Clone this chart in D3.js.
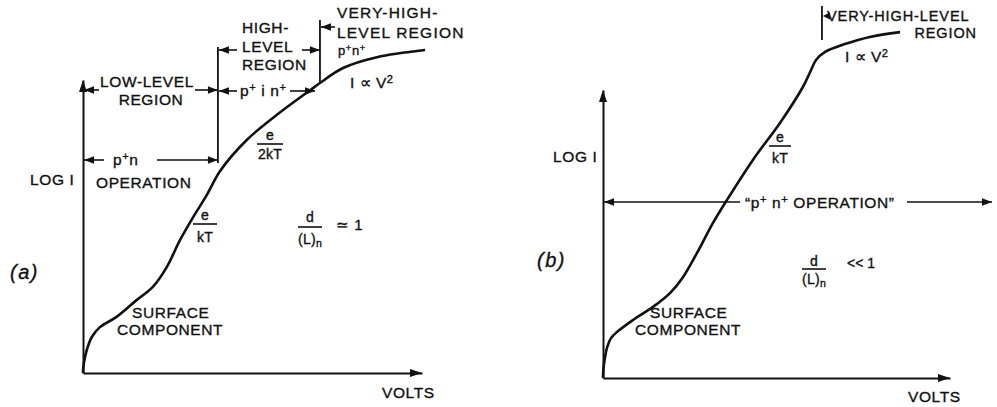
<!DOCTYPE html>
<html>
<head>
<meta charset="utf-8">
<script src="https://cdn.jsdelivr.net/npm/d3@7"></script>
<style>
  html, body { margin: 0; padding: 0; background: #fff; }
  svg text { font-family: "Liberation Sans", Arial, sans-serif; fill: #111; stroke: #111; stroke-width: 0.35px; }
</style>
</head>
<body>
<svg id="chart" width="997" height="407"></svg>
<script>
// Current–voltage characteristic, log I against volts (arbitrary units 0–100)
// (a) diode with d/(L)n ≈ 1
const curveA = [
  [0, 0], [0.1, 2], [0.6, 5.3], [1.2, 8], [2.6, 12], [5, 15.3], [9.9, 18.7],
  [15.8, 24.3], [20.6, 28.7], [24.7, 35.3], [28.6, 44.3], [32.5, 52],
  [36.5, 59.3], [40.4, 67.3], [48.3, 77.7], [57.1, 86], [67, 94.3],
  [69.9, 96.7], [76.7, 101.7], [86.7, 105.3], [100.9, 107.7]
];
// region boundaries along the volts axis for (a): low/high, high/very-high
const regionEdgesA = [39.8, 69.9];

// (b) diode with d/(L)n << 1
const curveB = [
  [0, 0], [0.1, 2.7], [0.6, 7], [1.2, 10.3], [2.3, 13.3], [4, 15.3],
  [8.6, 19.3], [14.4, 23.7], [19.3, 28.3], [23.1, 33.7], [27.1, 41.7],
  [31.7, 51.7], [35.7, 59.3], [43.2, 72.7], [51, 85], [57.6, 97],
  [59.7, 102], [61.4, 106], [64, 108.7], [69.7, 111.3], [76.9, 113.7],
  [85.6, 115.3]
];
const regionEdgeB = 63.1;

const axisMaxA = { x: 100, y: 97.7 };
const axisMaxB = { x: 100, y: 96 };

const svg = d3.select("#chart");
const INK = "#111";
const FS = 15.5;

// scales
const xA = d3.scaleLinear().domain([0, axisMaxA.x]).range([83, 422]);
const yA = d3.scaleLinear().domain([0, axisMaxA.y]).range([373, 80]);
const xB = d3.scaleLinear().domain([0, axisMaxB.x]).range([603, 950]);
const yB = d3.scaleLinear().domain([0, axisMaxB.y]).range([378, 90]);

// helpers
function arrowHead(g, x, y, dir, len = 10, half = 3.8) {
  // dir: 'left' | 'right' | 'up'
  let pts;
  if (dir === "right") pts = [[x, y], [x - len, y - half], [x - len, y + half]];
  else if (dir === "left") pts = [[x, y], [x + len, y - half], [x + len, y + half]];
  else pts = [[x, y], [x - half, y + len], [x + half, y + len]];
  g.append("path").attr("d", d3.line()(pts) + "Z").attr("fill", INK);
}
function arrow(g, x1, y, x2) {
  // shaft from x1 to x2, head at x2
  g.append("line").attr("x1", x1).attr("x2", x2).attr("y1", y).attr("y2", y)
    .attr("stroke", INK).attr("stroke-width", 1.6);
  arrowHead(g, x2, y, x2 > x1 ? "right" : "left");
}
function vline(g, x, y1, y2, w = 1.8) {
  g.append("line").attr("x1", x).attr("x2", x).attr("y1", y1).attr("y2", y2)
    .attr("stroke", INK).attr("stroke-width", w);
}
// text built from segments; {t, sup} / {t, sub}
function label(g, x, y, segs, opts = {}) {
  const t = g.append("text").attr("x", x).attr("y", y)
    .attr("font-size", opts.size || FS)
    .attr("letter-spacing", opts.ls != null ? opts.ls : 0.6)
    .attr("text-anchor", opts.anchor || "start");
  if (opts.italic) t.attr("font-style", "italic");
  if (typeof segs === "string") { t.text(segs); return t; }
  segs.forEach(s => {
    const sp = t.append("tspan").text(s.t);
    if (s.sup) sp.attr("font-size", (opts.size || FS) * 0.72).attr("baseline-shift", "45%");
    if (s.sub) sp.attr("font-size", (opts.size || FS) * 0.75).attr("baseline-shift", "-30%");
  });
  return t;
}
function fraction(g, cx, yNum, yBar, yDen, num, den, halfW, size = 14) {
  label(g, cx, yNum, num, { anchor: "middle", size, ls: 0.3 });
  g.append("line").attr("x1", cx - halfW).attr("x2", cx + halfW)
    .attr("y1", yBar).attr("y2", yBar).attr("stroke", INK).attr("stroke-width", 1.6);
  label(g, cx, yDen, den, { anchor: "middle", size, ls: 0.3 });
}
function axes(g, x, y, max) {
  const ax = g.append("g").attr("transform", `translate(0,${y(0)})`)
    .call(d3.axisBottom(x).tickValues([]).tickSizeOuter(0));
  const ay = g.append("g").attr("transform", `translate(${x(0)},0)`)
    .call(d3.axisLeft(y).tickValues([]).tickSizeOuter(0));
  [ax, ay].forEach(a => a.select(".domain").attr("stroke", INK).attr("stroke-width", 2));
  arrowHead(g, x(max.x), y(0), "right", 12, 4);
  arrowHead(g, x(0), y(max.y), "up", 12, 4);
}
const lineGen = (x, y) => d3.line().x(d => x(d[0])).y(d => y(d[1])).curve(d3.curveCatmullRom.alpha(0.5));

// ---------------- panel (a) ----------------
const gA = svg.append("g");
axes(gA, xA, yA, axisMaxA);
gA.append("path").datum(curveA).attr("d", lineGen(xA, yA))
  .attr("fill", "none").attr("stroke", INK).attr("stroke-width", 2.6);

const e0 = xA(regionEdgesA[0]), e1 = xA(regionEdgesA[1]);
vline(gA, e0, 47, 163);
vline(gA, e1, 20, 82);

label(gA, 30, 185, "LOG I");
label(gA, 10, 279, "(a)", { size: 20, italic: true, ls: 1.5 });
label(gA, 382, 398, "VOLTS");

// low-level region
label(gA, 147, 87, "LOW-LEVEL", { anchor: "middle" });
label(gA, 151, 105, "REGION", { anchor: "middle" });
arrow(gA, 99, 90, xA(0) + 1);
arrow(gA, 195, 90, e0);

// p+n operation
arrow(gA, 104, 160, xA(0) + 1);
label(gA, 113, 165, [{ t: "p" }, { t: "+", sup: true }, { t: "n" }]);
arrow(gA, 157, 160, e0);
label(gA, 96, 188, "OPERATION");

// high-level region
label(gA, 242, 33, "HIGH-");
label(gA, 242, 52, "LEVEL");
label(gA, 242, 70, "REGION");
arrow(gA, 237, 50, e0 + 1);
arrow(gA, 302, 50, e1);

// p+ i n+
arrow(gA, 237, 91, e0 + 1);
label(gA, 240, 96, [{ t: "p" }, { t: "+", sup: true }, { t: " i n" }, { t: "+", sup: true }]);
arrow(gA, 290, 91, 315);

// very-high-level region
arrow(gA, 335, 27, e1 + 1);
label(gA, 337, 18, "VERY-HIGH-", { ls: 1.2 });
label(gA, 337, 38, "LEVEL REGION", { ls: 1.2 });
label(gA, 338, 55, [{ t: "p" }, { t: "+", sup: true }, { t: "n" }, { t: "+", sup: true }], { size: 13 });
label(gA, 350, 88, [{ t: "I " }, { t: "∝" }, { t: " V" }, { t: "2", sup: true }], { ls: 0.5 });

// slope labels
fraction(gA, 270, 140, 144, 159, "e", "2kT", 13);
fraction(gA, 205, 220, 224, 242, "e", "kT", 12);
fraction(gA, 310, 222, 227, 244, "d", [{ t: "(L)" }, { t: "n", sub: true }], 12);
label(gA, 336, 230, "≃ 1", { size: 15 });

label(gA, 132, 318, "SURFACE");
label(gA, 117, 335, "COMPONENT");

// ---------------- panel (b) ----------------
const gB = svg.append("g");
axes(gB, xB, yB, axisMaxB);
gB.append("path").datum(curveB).attr("d", lineGen(xB, yB))
  .attr("fill", "none").attr("stroke", INK).attr("stroke-width", 2.6);

label(gB, 553, 162, "LOG I");
label(gB, 537, 267, "(b)", { size: 20, italic: true, ls: 1.5 });
label(gB, 908, 402, "VOLTS");

// p+ n+ operation across the whole range
arrow(gB, 740, 202, xB(0) + 1);
label(gB, 745, 208, [{ t: "“p" }, { t: "+", sup: true }, { t: " n" }, { t: "+", sup: true }, { t: " OPERATION”" }]);
arrow(gB, 907, 202, 992);

// very-high-level region marker
const eb = xB(regionEdgeB);
vline(gB, eb, 6, 40);
arrowHead(gB, eb + 1, 16, "left", 7, 3.5);
label(gB, 827, 21, "VERY-HIGH-LEVEL", { ls: 0.9, size: 14.5 });
label(gB, 977, 38, "REGION", { anchor: "end", ls: 0.9, size: 14.5 });
label(gB, 845, 62, [{ t: "I " }, { t: "∝" }, { t: " V" }, { t: "2", sup: true }], { ls: 0.5 });

fraction(gB, 780, 142, 146, 163, "e", "kT", 11);
fraction(gB, 814, 266, 269, 284, "d", [{ t: "(L)" }, { t: "n", sub: true }], 12);
label(gB, 847, 268, "<< 1", { size: 14, ls: 0 });

label(gB, 650, 318, "SURFACE");
label(gB, 635, 335, "COMPONENT");
</script>
</body>
</html>
